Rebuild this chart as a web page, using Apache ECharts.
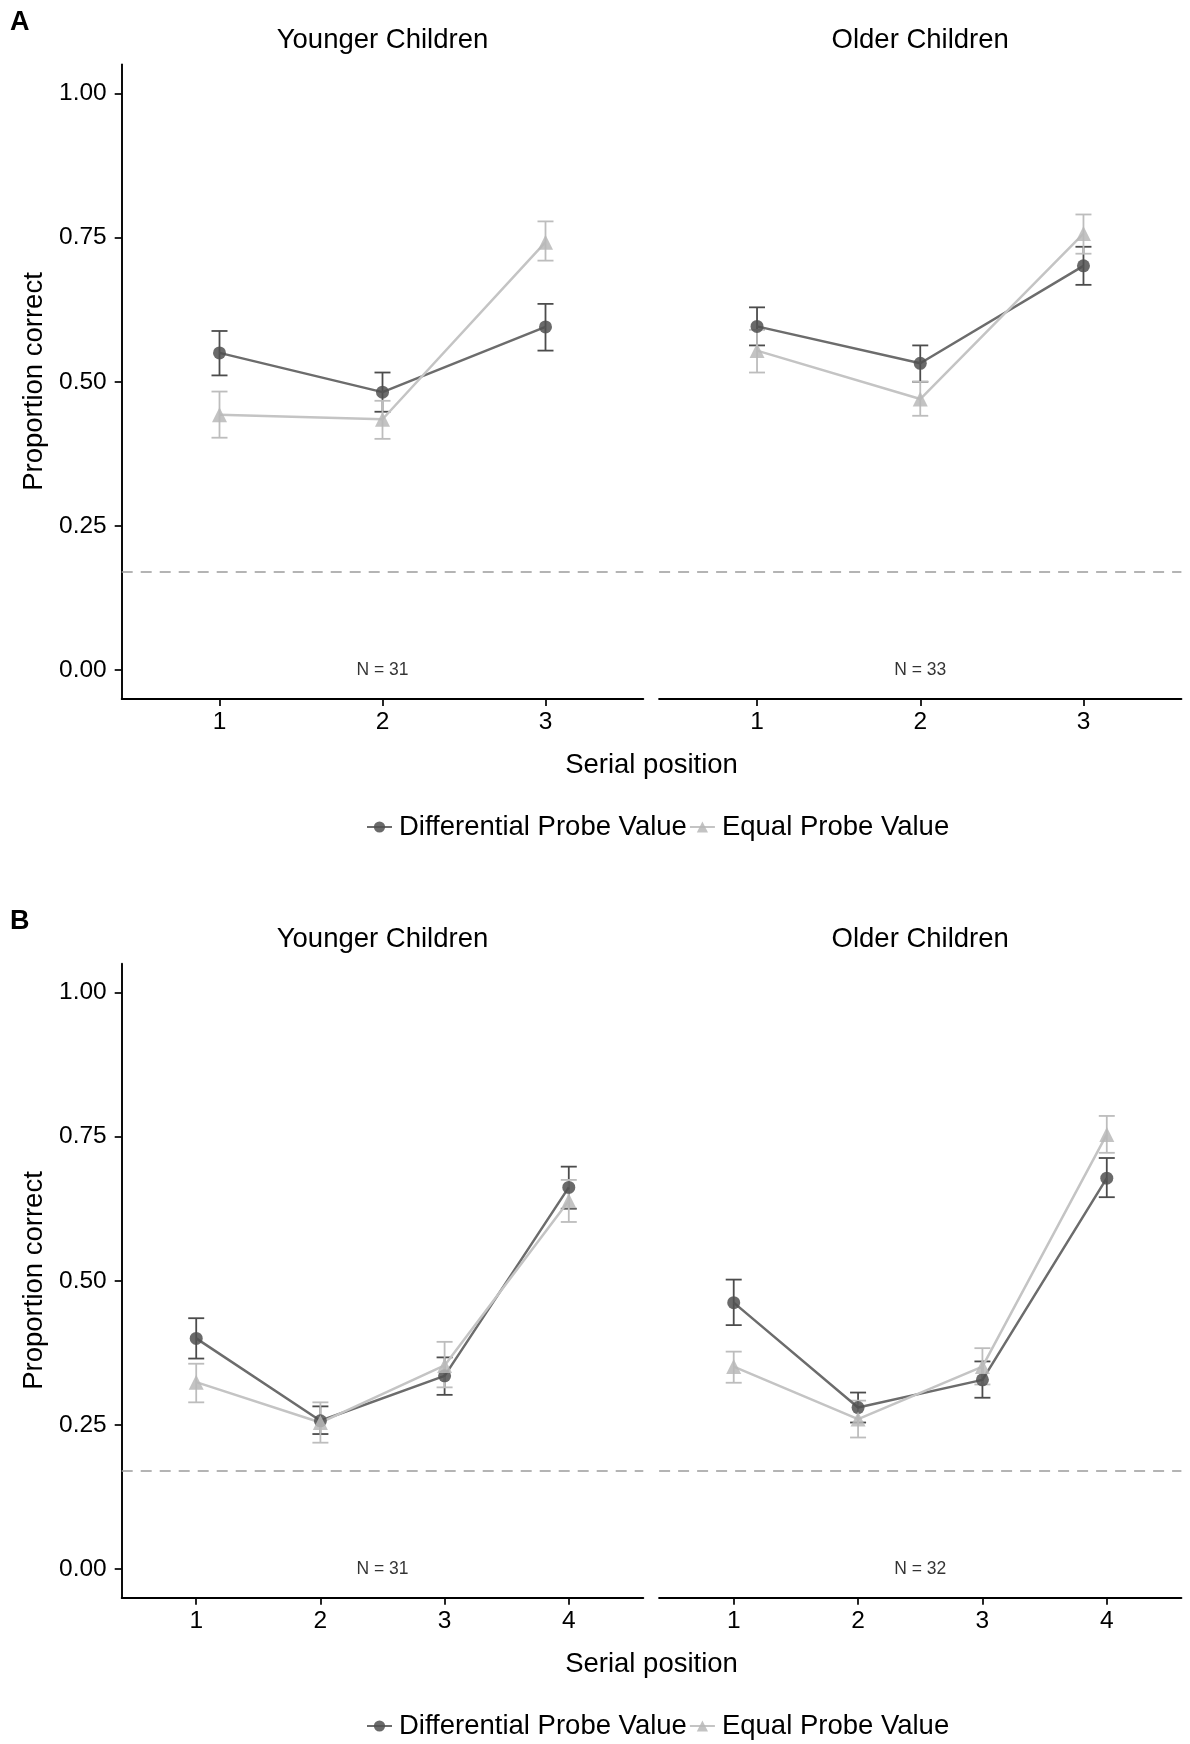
<!DOCTYPE html>
<html><head><meta charset="utf-8">
<script src="https://cdn.jsdelivr.net/npm/echarts@6/dist/echarts.min.js"></script>
<style>html,body{margin:0;padding:0;background:#fff}#c{width:1190px;height:1744px}</style>
</head><body><div id="c"></div>
<script>
// ---------- data ----------
const serialA = [1, 2, 3];
const serialB = [1, 2, 3, 4];
const yTicks = [0, 0.25, 0.5, 0.75, 1];
const seriesNames = ['Differential Probe Value', 'Equal Probe Value'];
const facetNames = ['Younger Children', 'Older Children'];
const panelLetters = ['A', 'B'];
const chanceLevel = 0.167;
const nLabels = ['N = 31', 'N = 33', 'N = 31', 'N = 32'];

// Panel A
const aYoungDiff   = [0.550, 0.482, 0.595];
const aYoungDiffLo = [0.511, 0.448, 0.554];
const aYoungDiffHi = [0.588, 0.516, 0.635];
const aYoungEq     = [0.443, 0.435, 0.742];
const aYoungEqLo   = [0.403, 0.401, 0.710];
const aYoungEqHi   = [0.483, 0.467, 0.778];
const aOldDiff     = [0.596, 0.532, 0.701];
const aOldDiffLo   = [0.563, 0.500, 0.668];
const aOldDiffHi   = [0.629, 0.563, 0.734];
const aOldEq       = [0.554, 0.470, 0.757];
const aOldEqLo     = [0.516, 0.441, 0.722];
const aOldEqHi     = [0.590, 0.500, 0.790];
// Panel B
const bYoungDiff   = [0.400, 0.257, 0.335, 0.662];
const bYoungDiffLo = [0.365, 0.234, 0.302, 0.625];
const bYoungDiffHi = [0.435, 0.282, 0.367, 0.698];
const bYoungEq     = [0.324, 0.254, 0.353, 0.639];
const bYoungEqLo   = [0.289, 0.219, 0.315, 0.602];
const bYoungEqHi   = [0.356, 0.289, 0.394, 0.675];
const bOldDiff     = [0.462, 0.280, 0.328, 0.678];
const bOldDiffLo   = [0.423, 0.254, 0.297, 0.645];
const bOldDiffHi   = [0.502, 0.306, 0.360, 0.713];
const bOldEq       = [0.351, 0.260, 0.351, 0.754];
const bOldEqLo     = [0.323, 0.228, 0.320, 0.722];
const bOldEqHi     = [0.377, 0.292, 0.383, 0.786];

// ---------- styling / layout ----------
const FONT = '"Liberation Sans", Arial, Helvetica, sans-serif';
const DARK_LINE = '#6c6c6c', DARK_PT = '#505050', DARK_ERR = '#4c4c4c';
const LIGHT_LINE = '#c4c4c4', LIGHT_PT = '#b9b9b9', LIGHT_ERR = '#bdbdbd';
const TXT = '#000';

const panels = [
  {grid: {left: 121.7, top: 64.5, width: 521.6, height: 634.5}, xs: serialA, xmax: 3.6, nx: 2,
   diff: [aYoungDiff, aYoungDiffLo, aYoungDiffHi], eq: [aYoungEq, aYoungEqLo, aYoungEqHi], n: nLabels[0], showY: true},
  {grid: {left: 659.1, top: 64.5, width: 522.3, height: 634.5}, xs: serialA, xmax: 3.6, nx: 2,
   diff: [aOldDiff, aOldDiffLo, aOldDiffHi], eq: [aOldEq, aOldEqLo, aOldEqHi], n: nLabels[1], showY: false},
  {grid: {left: 121.7, top: 963.8, width: 521.6, height: 633.9}, xs: serialB, xmax: 4.6, nx: 2.5,
   diff: [bYoungDiff, bYoungDiffLo, bYoungDiffHi], eq: [bYoungEq, bYoungEqLo, bYoungEqHi], n: nLabels[2], showY: true},
  {grid: {left: 659.1, top: 963.8, width: 522.3, height: 633.9}, xs: serialB, xmax: 4.6, nx: 2.5,
   diff: [bOldDiff, bOldDiffLo, bOldDiffHi], eq: [bOldEq, bOldEqLo, bOldEqHi], n: nLabels[3], showY: false}
];

function errSeries(gi, xs, lo, hi, color) {
  return {
    type: 'custom', xAxisIndex: gi, yAxisIndex: gi, silent: true, z: 2,
    data: xs.map((x, i) => [x, lo[i], hi[i]]),
    encode: {x: 0, y: [1, 2]},
    renderItem: (params, api) => {
      const x = api.value(0);
      const t = api.coord([x, api.value(2)]);
      const b = api.coord([x, api.value(1)]);
      const hw = 8;
      const st = {stroke: color, lineWidth: 1.8, fill: null};
      return {type: 'group', children: [
        {type: 'line', shape: {x1: t[0], y1: t[1], x2: b[0], y2: b[1]}, style: st},
        {type: 'line', shape: {x1: t[0] - hw, y1: t[1], x2: t[0] + hw, y2: t[1]}, style: st},
        {type: 'line', shape: {x1: b[0] - hw, y1: b[1], x2: b[0] + hw, y2: b[1]}, style: st}
      ]};
    }
  };
}

function lineSeries(gi, name, xs, vals, symbol, lineColor, ptColor, size, extra) {
  return Object.assign({
    type: 'line', name: name, xAxisIndex: gi, yAxisIndex: gi, z: 3,
    data: xs.map((x, i) => [x, vals[i]]),
    symbol: symbol, symbolSize: size, showSymbol: true, silent: true,
    lineStyle: {color: lineColor, width: 2.5},
    itemStyle: {color: ptColor, opacity: 0.85, borderWidth: 0},
    emphasis: {disabled: true}
  }, extra || {});
}

const grids = [], xAxes = [], yAxes = [], series = [];
panels.forEach((p, gi) => {
  grids.push(Object.assign({outerBoundsMode: 'none', containLabel: false}, p.grid));
  xAxes.push({
    type: 'value', gridIndex: gi, min: 0.4, max: p.xmax,
    axisLine: {show: true, onZero: false, lineStyle: {color: '#000', width: 1.9}},
    axisTick: {show: true, length: 7, customValues: p.xs, lineStyle: {color: '#000', width: 1.7}},
    axisLabel: {show: true, customValues: p.xs, margin: 11, fontSize: 24.5, color: TXT, fontFamily: FONT},
    splitLine: {show: false}
  });
  yAxes.push({
    type: 'value', gridIndex: gi, min: -0.05, max: 1.05,
    axisLine: {show: p.showY, onZero: false, lineStyle: {color: '#000', width: 1.9}},
    axisTick: {show: p.showY, length: 7, customValues: yTicks, lineStyle: {color: '#000', width: 1.7}},
    axisLabel: {show: p.showY, customValues: yTicks, margin: 15, fontSize: 24.5, color: TXT, fontFamily: FONT,
                formatter: v => v.toFixed(2)},
    splitLine: {show: false}
  });
  series.push(errSeries(gi, p.xs, p.diff[1], p.diff[2], DARK_ERR));
  series.push(errSeries(gi, p.xs, p.eq[1], p.eq[2], LIGHT_ERR));
  series.push(lineSeries(gi, seriesNames[0], p.xs, p.diff[0], 'circle', DARK_LINE, DARK_PT, 13, {
    markLine: {silent: true, symbol: 'none', label: {show: false}, animation: false,
      lineStyle: {color: '#9c9c9c', type: [11, 8], width: 1.7},
      emphasis: {disabled: true},
      data: [{yAxis: chanceLevel}]}
  }));
  series.push(lineSeries(gi, seriesNames[1], p.xs, p.eq[0], 'triangle', LIGHT_LINE, LIGHT_PT, 15));
  series.push({
    type: 'scatter', xAxisIndex: gi, yAxisIndex: gi, symbolSize: 0, silent: true,
    data: [{value: [p.nx, 0], name: p.n}],
    label: {show: true, position: 'inside', formatter: '{b}', fontSize: 17.5, color: TXT, fontFamily: FONT}
  });
});

const graphics = [];
function txt(x, y, text, size, opts) {
  graphics.push(Object.assign({
    type: 'text', x: x, y: y, silent: true,
    style: Object.assign({text: text, fontSize: size, fontFamily: FONT, fill: TXT,
      align: 'center', verticalAlign: 'middle'}, (opts && opts.style) || {})
  }, (opts && opts.el) || {}));
}
[0, 1].forEach(k => {
  const off = k === 0 ? 0 : 899;
  txt(10, 23 + off, panelLetters[k], 27, {style: {align: 'left', fontWeight: 'bold'}});
  txt(382.5, 40 + off, facetNames[0], 27.5);
  txt(920.2, 40 + off, facetNames[1], 27.5);
  txt(651.5, 765 + off, 'Serial position', 27.5);
  txt(34, 381.5 + off, 'Proportion correct', 27.5, {el: {rotation: Math.PI / 2}});
});

const legendBase = {
  data: seriesNames, orient: 'horizontal', left: 366, itemGap: 2, itemWidth: 25, itemHeight: 14,
  padding: 0, selectedMode: false,
  textStyle: {fontSize: 27.5, color: TXT, fontFamily: FONT, padding: [0, 0, 0, 2]}
};

const chart = echarts.init(document.getElementById('c'), null, {renderer: 'canvas'});
chart.setOption({
  animation: false,
  backgroundColor: '#fff',
  grid: grids, xAxis: xAxes, yAxis: yAxes, series: series,
  legend: [Object.assign({top: 813}, legendBase), Object.assign({top: 1712}, legendBase)],
  graphic: graphics
});
</script></body></html>
